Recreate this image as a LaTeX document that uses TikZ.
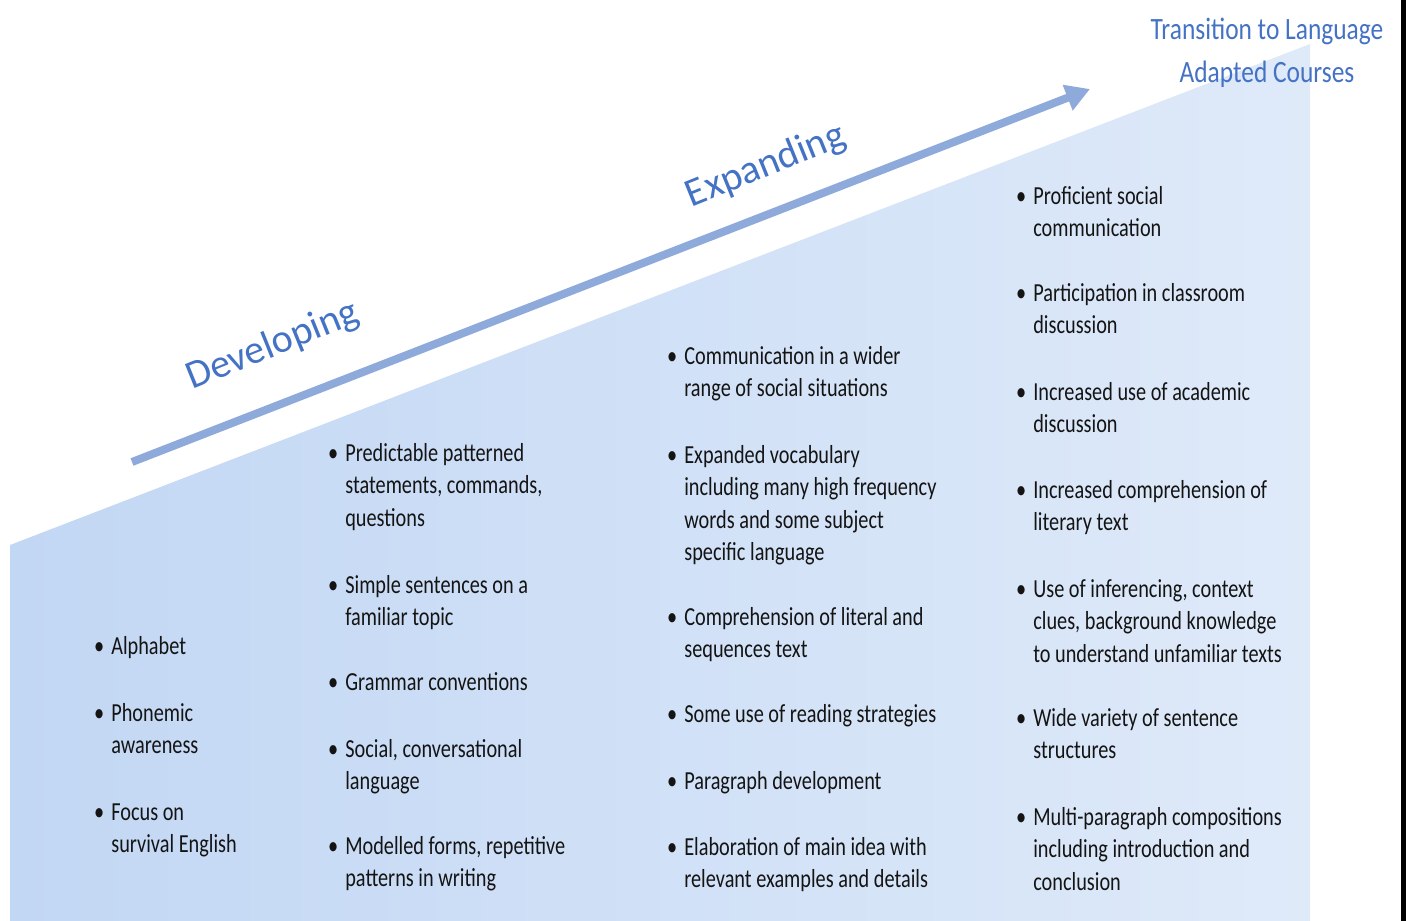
\documentclass[tikz,border=0pt]{standalone}
\usepackage{fontspec}
\setmainfont{Carlito}
\usepackage{graphicx}
\usetikzlibrary{arrows.meta}

\definecolor{wedgeleft}{HTML}{C2D7F4}
\definecolor{wedgeright}{HTML}{DFEAF9}
\definecolor{arrowblue}{HTML}{8EAADB}
\definecolor{stageblue}{HTML}{4472C4}
\definecolor{itemgray}{HTML}{141414}

% 一個項目:圓點 + 懸掛縮排的文字(水平壓縮)
\newcommand{\bitem}[1]{\scalebox{0.78}[1]{\begin{tabular}[t]{@{}l@{\hspace{9pt}}l@{}}\textbullet & #1\end{tabular}}}

\begin{document}
\begin{tikzpicture}[
        x=1pt, y=-1pt,
        % 項目文字樣式
        item/.style={
            anchor=base west,
            inner sep=0pt,
            text=itemgray,
            font=\fontsize{26}{32.5}\selectfont
        },
        % 階段標籤樣式
        stage/.style={
            text=stageblue,
            inner sep=0pt,
            rotate=22,
            font=\fontsize{40}{48}\selectfont
        },
        % 上升箭頭樣式
        rise_arrow/.style={
            draw=arrowblue,
            line width=8pt,
            -{Triangle[length=24pt,width=26pt]}
        }
    ]
        \useasboundingbox (0,0) rectangle (1406,921);

        % ==========================
        % 1. 背景楔形 (漸層)
        % ==========================
        \shade[left color=wedgeleft, right color=wedgeright]
            (10,545) -- (1310,44) -- (1310,921) -- (10,921) -- cycle;
        \fill[black] (1401,0) rectangle (1406,921);

        % ==========================
        % 2. 箭頭與階段標籤
        % ==========================
        \coordinate (arrowstart) at (132,462);
        \coordinate (arrowend) at (1090,89);
        \draw[rise_arrow] (arrowstart) -- (arrowend);

        \node[stage] (developing) at (273,346) {Developing};
        \node[stage] (expanding) at (766,166) {Expanding};
        \node[anchor=base, inner sep=0pt, text=stageblue,
              font=\fontsize{31}{43}\selectfont] (transition) at (1267,39)
            {\scalebox{0.82}[1]{\begin{tabular}[t]{@{}c@{}}Transition to Language\\Adapted Courses\end{tabular}}};

        % ==========================
        % 3. 各欄項目
        % ==========================
        \foreach \y/\t [count=\i] in {
            654/{Alphabet},
            721/{Phonemic\\&awareness},
            820/{Focus on\\&survival English}} {
            \node[item] (first\i) at (94,\y) {\bitem{\t}};
        }

        \foreach \y/\t [count=\i] in {
            461/{Predictable patterned\\&statements, commands,\\&questions},
            593/{Simple sentences on a\\&familiar topic},
            690/{Grammar conventions},
            757/{Social, conversational\\&language},
            854/{Modelled forms, repetitive\\&patterns in writing}} {
            \node[item] (dev\i) at (328,\y) {\bitem{\t}};
        }

        \foreach \y/\t [count=\i] in {
            364/{Communication in a wider\\&range of social situations},
            463/{Expanded vocabulary\\&including many high frequency\\&words and some subject\\&specific language},
            625/{Comprehension of literal and\\&sequences text},
            722/{Some use of reading strategies},
            789/{Paragraph development},
            855/{Elaboration of main idea with\\&relevant examples and details}} {
            \node[item] (exp\i) at (667,\y) {\bitem{\t}};
        }

        \foreach \y/\t [count=\i] in {
            204/{Proficient social\\&communication},
            301/{Participation in classroom\\&discussion},
            400/{Increased use of academic\\&discussion},
            498/{Increased comprehension of\\&literary text},
            597/{Use of inferencing, context\\&clues, background knowledge\\&to understand unfamiliar texts},
            726/{Wide variety of sentence\\&structures},
            825/{Multi-paragraph compositions\\&including introduction and\\&conclusion}} {
            \node[item] (trans\i) at (1016,\y) {\bitem{\t}};
        }

\end{tikzpicture}
\end{document}
